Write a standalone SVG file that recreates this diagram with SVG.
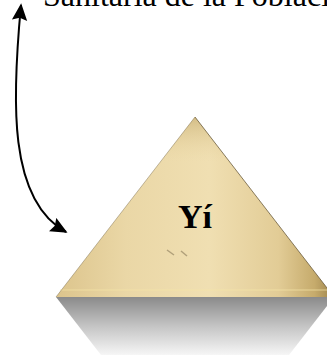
<svg xmlns="http://www.w3.org/2000/svg" width="327" height="355" viewBox="0 0 327 355">
<style>
.lbl{font-family:"Liberation Serif","Times New Roman",serif;fill:#000}
.conn{fill:none;stroke:#000;stroke-width:2}
</style>
<defs>
<marker id="ah" viewBox="0 0 10 10" refX="9" refY="5" markerWidth="8.5" markerHeight="8.5" orient="auto-start-reverse" markerUnits="strokeWidth">
<path d="M0,0.5 L10,5 L0,9.5 L1.5,5 z" fill="#000"/>
</marker>
<linearGradient id="pap" x1="0" y1="0" x2="1" y2="0">
<stop offset="0" stop-color="#dcc48c"/>
<stop offset="0.25" stop-color="#ead7a6"/>
<stop offset="0.55" stop-color="#f0dfb2"/>
<stop offset="0.8" stop-color="#e2cc96"/>
<stop offset="0.93" stop-color="#c6ab6c"/>
<stop offset="1" stop-color="#9c834c"/>
</linearGradient>
<linearGradient id="papv" x1="0" y1="0" x2="0" y2="1">
<stop offset="0" stop-color="#b89c5c" stop-opacity="0.5"/>
<stop offset="0.25" stop-color="#e8d4a0" stop-opacity="0"/>
<stop offset="1" stop-color="#e8d4a0" stop-opacity="0"/>
</linearGradient>
<linearGradient id="refl" x1="0" y1="0" x2="0" y2="1">
<stop offset="0" stop-color="#8a8a8a"/>
<stop offset="0.5" stop-color="#c4c4c4"/>
<stop offset="1" stop-color="#f6f6f6"/>
</linearGradient>
</defs>
<g id="title">
<text class="lbl" x="43" y="6" font-size="32">Sanitaria de la Población</text>
</g>
<g id="pyramid">
<polygon points="56,297 101,355 289,355 334,297" fill="url(#refl)"/>
<polygon points="195,117 56,297 334,297" fill="url(#pap)"/>
<polygon points="195,117 56,297 334,297" fill="url(#papv)"/>
<line x1="60" y1="290" x2="330" y2="290" stroke="#f6e6a8" stroke-width="1" opacity="0.7"/>
<path d="M195,117 L334,297" stroke="#5a4a2a" stroke-width="1" fill="none" opacity="0.7"/>
<path d="M195,117 L56,297" stroke="#6a5a3a" stroke-width="0.8" fill="none" opacity="0.5"/>
<path d="M167,250 l7,5 M181,251 l6,5" stroke="#8a7a5a" stroke-width="1.5" opacity="0.6"/>
<text class="lbl" x="195" y="228" font-size="34" font-weight="bold" text-anchor="middle">Yí</text>
</g>
<g id="connectors">
<path class="conn" d="M21,5 C12,100 8,200 66,232" marker-start="url(#ah)" marker-end="url(#ah)"/>
</g>
</svg>
